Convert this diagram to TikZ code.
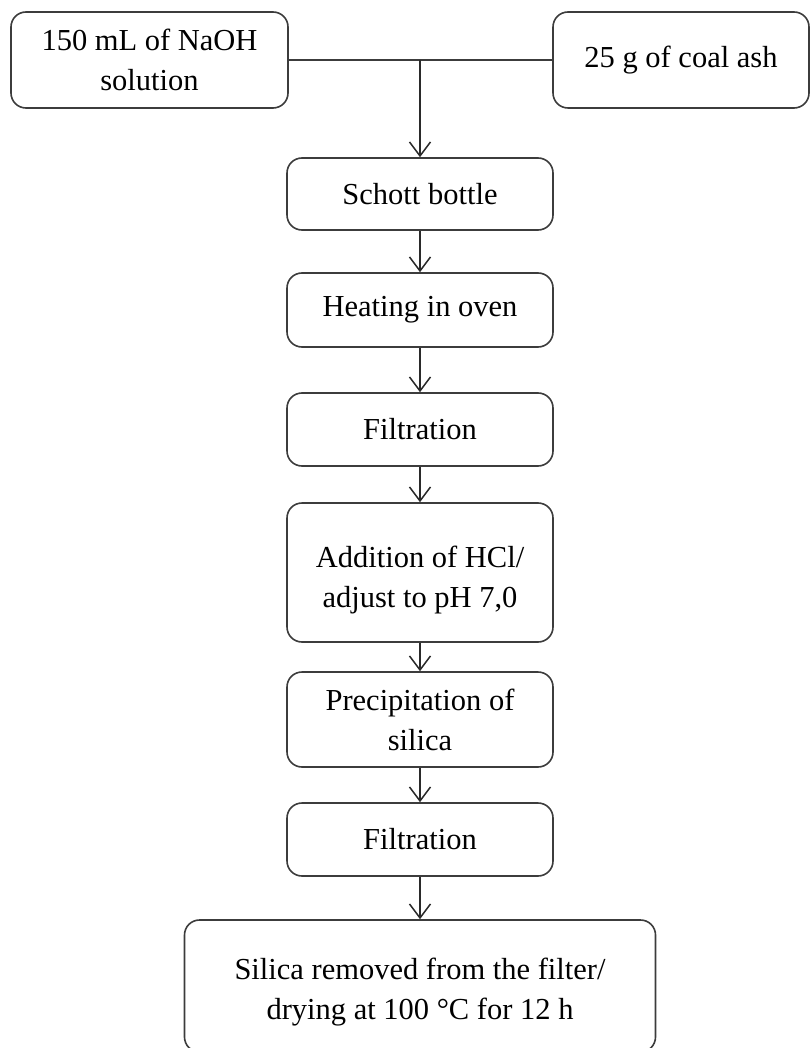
\documentclass[tikz,border=0pt]{standalone}
\usepackage{fontspec}
\setmainfont{Liberation Serif}
\usetikzlibrary{arrows.meta}
\definecolor{boxline}{HTML}{3C3C3C}
\definecolor{arrline}{HTML}{2A2A2A}
\tikzset{
  stepbox/.style={draw=boxline, line width=1.6pt, rounded corners=15pt, fill=white,
    align=center, inner sep=0pt, font=\fontsize{30.5}{40}\selectfont},
  flowarrow/.style={draw=arrline, line width=1.5pt, -{Straight Barb[length=14pt,width=21pt,line width=1.5pt]}},
  joinline/.style={draw=boxline, line width=1.6pt}
}
\begin{document}
\begin{tikzpicture}[x=1pt,y=-1pt]
\useasboundingbox (0,0) rectangle (811,1048);
\clip (0,0) rectangle (811,1048);
\fill[white] (0,0) rectangle (811,1048);
% top boxes
\node[stepbox, minimum width=277pt, minimum height=96pt] (naoh) at (149.5,60) {150 mL of NaOH\\solution};
\node[stepbox, minimum width=256pt, minimum height=96pt] (ash) at (681,60) {25 g of coal ash};
% chain
\node[stepbox, minimum width=266pt, minimum height=72pt] (schott) at (420,194) {Schott bottle};
\node[stepbox, minimum width=266pt, minimum height=74pt] (heat) at (420,310) {Heating in oven};
\node[stepbox, minimum width=266pt, minimum height=73pt] (filt1) at (420,429.5) {Filtration};
\node[stepbox, minimum width=266pt, minimum height=139pt] (hcl) at (420,572.5) {\rule{0pt}{36pt}Addition of HCl/\\adjust to pH 7,0};
\node[stepbox, minimum width=266pt, minimum height=95pt] (prec) at (420,719.5) {Precipitation of\\silica};
\node[stepbox, minimum width=266pt, minimum height=73pt] (filt2) at (420,839.5) {Filtration};
\node[stepbox, minimum width=471pt, minimum height=132pt] (dry) at (420,986) {\rule{0pt}{34pt}Silica removed from the filter/\\drying at 100 °C for 12 h};
% connectors
\coordinate (join) at (schott.north |- naoh.east);
\draw[joinline] (naoh.east) -- (ash.west);
\draw[flowarrow] (join) -- (schott.north);
\draw[flowarrow] (schott.south) -- (heat.north);
\draw[flowarrow] (heat.south) -- (filt1.north);
\draw[flowarrow] (filt1.south) -- (hcl.north);
\draw[flowarrow] (hcl.south) -- (prec.north);
\draw[flowarrow] (prec.south) -- (filt2.north);
\draw[flowarrow] (filt2.south) -- (dry.north);
\end{tikzpicture}
\end{document}
